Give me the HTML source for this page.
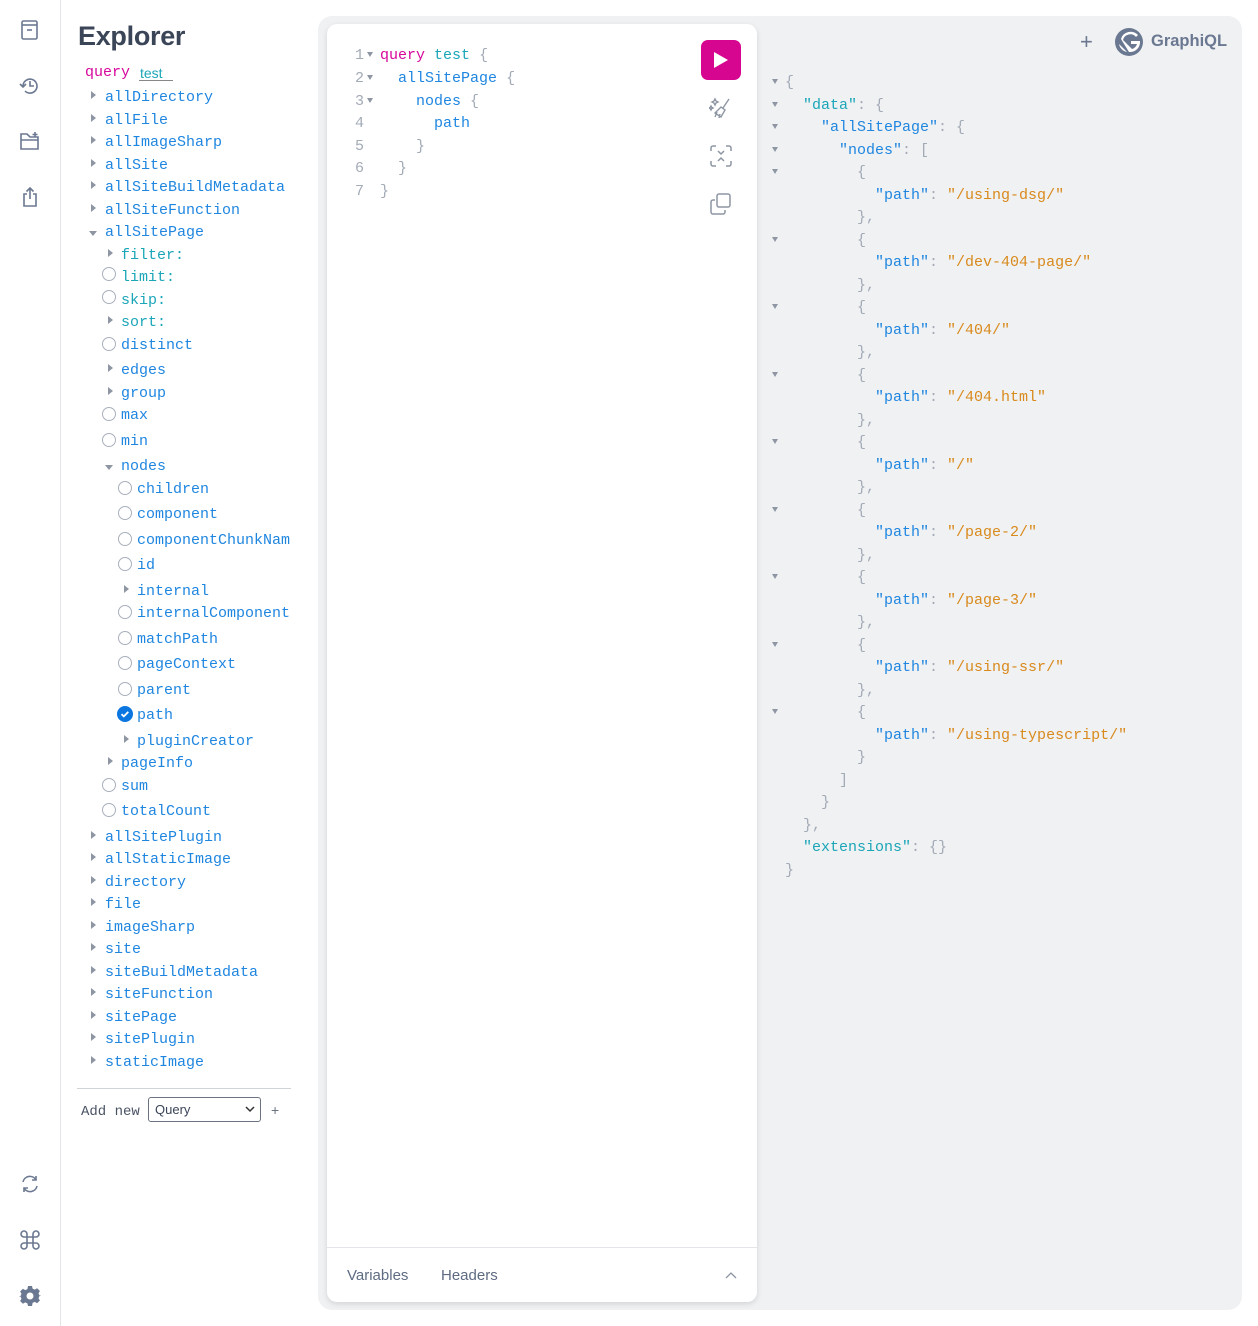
<!DOCTYPE html>
<html><head><meta charset="utf-8">
<style>
*{margin:0;padding:0;box-sizing:border-box}
body{width:1258px;height:1326px;background:#fff;position:relative;overflow:hidden;font-family:"Liberation Sans",sans-serif}
.m{font-family:"Liberation Mono",monospace;font-size:15px;line-height:20px;position:absolute;white-space:pre;margin-top:2px}
.f{color:#1f86e0}.a{color:#1ba6b8}.k{color:#d6079b}.p{color:#a3abb7}.s{color:#d98a1c}.n{color:#a3abb7}
.tri{position:absolute;width:0;height:0;border-top:4px solid transparent;border-bottom:4px solid transparent;border-left:5px solid #8e96a3;margin-top:-1px}
.dn{position:absolute;width:0;height:0;border-left:4px solid transparent;border-right:4px solid transparent;border-top:5px solid #8e96a3}
.rad{position:absolute;width:14px;height:14px;border:1.5px solid #a9b0bc;border-radius:50%}
.ja{position:absolute;left:772px;width:0;height:0;border-left:3px solid transparent;border-right:3px solid transparent;border-top:5px solid #8e96a3}
svg{position:absolute}
</style></head><body>
<!-- sidebar -->
<div style="position:absolute;left:60px;top:0;width:1px;height:1326px;background:#e3e5e8"></div>
<svg style="left:20px;top:19px" width="20" height="22" viewBox="0 0 20 22" fill="none" stroke="#6b7891" stroke-width="1.6"><rect x="2" y="2" width="15" height="18" rx="1.5"/><line x1="2" y1="6" x2="17" y2="6"/><line x1="7" y1="11" x2="12" y2="11"/></svg>
<svg style="left:19px;top:75px" width="22" height="22" viewBox="0 0 22 22" fill="none" stroke="#6b7891" stroke-width="1.6"><path d="M4 11a7 7 0 1 1 2 5"/><path d="M1 9l3 3 3-3"/><path d="M11 6v5h4"/></svg>
<svg style="left:19px;top:131px" width="22" height="20" viewBox="0 0 22 20" fill="none" stroke="#6b7891" stroke-width="1.6"><path d="M2 3h6l3 3h8v12H2z"/><line x1="2" y1="9" x2="19" y2="9"/><path d="M16 1v5M13.5 3.5h5"/></svg>
<svg style="left:21px;top:186px" width="18" height="22" viewBox="0 0 18 22" fill="none" stroke="#6b7891" stroke-width="1.6"><path d="M6 8H3v12h12V8h-3"/><path d="M9 2v11M5.5 5.5L9 2l3.5 3.5"/></svg>
<svg style="left:19px;top:1173px" width="22" height="22" viewBox="0 0 22 22" fill="none" stroke="#6b7891" stroke-width="1.6"><path d="M4 9a7 7 0 0 1 13-2M18 13a7 7 0 0 1-13 2"/><path d="M17 3v4h-4M5 19v-4h4"/></svg>
<svg style="left:19px;top:1229px" width="22" height="22" viewBox="0 0 22 22" fill="none" stroke="#6b7891" stroke-width="1.6"><path d="M8 8V5a3 3 0 1 0-3 3h12a3 3 0 1 0-3-3v12a3 3 0 1 0 3-3H5a3 3 0 1 0 3 3z"/></svg>
<svg style="left:19px;top:1285px" width="22" height="22" viewBox="0 0 22 22"><path fill="#6b7891" d="M9 1h4l.6 2.6 2.2 1 2.3-1.4 2.8 2.8-1.4 2.3 1 2.2L23 11v0l0 0v0h-2.5l-1 2.2 1.4 2.3-2.8 2.8-2.3-1.4-2.2 1L13 21H9l-.6-2.6-2.2-1-2.3 1.4-2.8-2.8 1.4-2.3-1-2.2L-1 11h2.5l1-2.2L1.1 6.5 3.9 3.7l2.3 1.4 2.2-1z"/><circle cx="11" cy="11" r="3.5" fill="#fff"/></svg>

<!-- explorer -->
<div style="position:absolute;left:78px;top:21px;font-size:27px;font-weight:bold;color:#3b4558;letter-spacing:-0.3px">Explorer</div>
<div class="m k" style="left:85px;top:61px">query</div>
<div class="m a" style="left:140px;top:61px;font-family:'Liberation Sans',sans-serif;font-size:14px">test</div>
<div style="position:absolute;left:139px;top:80px;width:34px;height:1px;background:#888"></div>

<div class="tri" style="left:91px;top:92px"></div><div class="m f" style="left:105px;top:86px">allDirectory</div>
<div class="tri" style="left:91px;top:115px"></div><div class="m f" style="left:105px;top:109px">allFile</div>
<div class="tri" style="left:91px;top:137px"></div><div class="m f" style="left:105px;top:131px">allImageSharp</div>
<div class="tri" style="left:91px;top:160px"></div><div class="m f" style="left:105px;top:154px">allSite</div>
<div class="tri" style="left:91px;top:182px"></div><div class="m f" style="left:105px;top:176px">allSiteBuildMetadata</div>
<div class="tri" style="left:91px;top:205px"></div><div class="m f" style="left:105px;top:199px">allSiteFunction</div>
<div class="dn" style="left:89px;top:231px"></div><div class="m f" style="left:105px;top:221px">allSitePage</div>
<div class="tri" style="left:108px;top:250px"></div><div class="m a" style="left:121px;top:244px">filter:</div>
<div class="rad" style="left:102px;top:267px"></div><div class="m a" style="left:121px;top:266px">limit:</div>
<div class="rad" style="left:102px;top:290px"></div><div class="m a" style="left:121px;top:289px">skip:</div>
<div class="tri" style="left:108px;top:317px"></div><div class="m a" style="left:121px;top:311px">sort:</div>
<div class="rad" style="left:102px;top:337px"></div><div class="m f" style="left:121px;top:334px">distinct</div>
<div class="tri" style="left:108px;top:365px"></div><div class="m f" style="left:121px;top:359px">edges</div>
<div class="tri" style="left:108px;top:388px"></div><div class="m f" style="left:121px;top:382px">group</div>
<div class="rad" style="left:102px;top:407px"></div><div class="m f" style="left:121px;top:404px">max</div>
<div class="rad" style="left:102px;top:433px"></div><div class="m f" style="left:121px;top:430px">min</div>
<div class="dn" style="left:105px;top:465px"></div><div class="m f" style="left:121px;top:455px">nodes</div>
<div class="rad" style="left:118px;top:481px"></div><div class="m f" style="left:137px;top:478px">children</div>
<div class="rad" style="left:118px;top:506px"></div><div class="m f" style="left:137px;top:503px">component</div>
<div class="rad" style="left:118px;top:532px"></div><div class="m f" style="left:137px;top:529px">componentChunkNam</div>
<div class="rad" style="left:118px;top:557px"></div><div class="m f" style="left:137px;top:554px">id</div>
<div class="tri" style="left:124px;top:586px"></div><div class="m f" style="left:137px;top:580px">internal</div>
<div class="rad" style="left:118px;top:605px"></div><div class="m f" style="left:137px;top:602px">internalComponent</div>
<div class="rad" style="left:118px;top:631px"></div><div class="m f" style="left:137px;top:628px">matchPath</div>
<div class="rad" style="left:118px;top:656px"></div><div class="m f" style="left:137px;top:653px">pageContext</div>
<div class="rad" style="left:118px;top:682px"></div><div class="m f" style="left:137px;top:679px">parent</div>
<svg style="left:117px;top:706px" width="16" height="16" viewBox="0 0 16 16"><circle cx="8" cy="8" r="8" fill="#0b76e0"/><path d="M4.5 8.2l2.3 2.2 4.5-4.5" stroke="#fff" stroke-width="1.8" fill="none"/></svg><div class="m f" style="left:137px;top:704px">path</div>
<div class="tri" style="left:124px;top:736px"></div><div class="m f" style="left:137px;top:730px">pluginCreator</div>
<div class="tri" style="left:108px;top:758px"></div><div class="m f" style="left:121px;top:752px">pageInfo</div>
<div class="rad" style="left:102px;top:778px"></div><div class="m f" style="left:121px;top:775px">sum</div>
<div class="rad" style="left:102px;top:803px"></div><div class="m f" style="left:121px;top:800px">totalCount</div>
<div class="tri" style="left:91px;top:832px"></div><div class="m f" style="left:105px;top:826px">allSitePlugin</div>
<div class="tri" style="left:91px;top:854px"></div><div class="m f" style="left:105px;top:848px">allStaticImage</div>
<div class="tri" style="left:91px;top:877px"></div><div class="m f" style="left:105px;top:871px">directory</div>
<div class="tri" style="left:91px;top:899px"></div><div class="m f" style="left:105px;top:893px">file</div>
<div class="tri" style="left:91px;top:922px"></div><div class="m f" style="left:105px;top:916px">imageSharp</div>
<div class="tri" style="left:91px;top:944px"></div><div class="m f" style="left:105px;top:938px">site</div>
<div class="tri" style="left:91px;top:967px"></div><div class="m f" style="left:105px;top:961px">siteBuildMetadata</div>
<div class="tri" style="left:91px;top:989px"></div><div class="m f" style="left:105px;top:983px">siteFunction</div>
<div class="tri" style="left:91px;top:1012px"></div><div class="m f" style="left:105px;top:1006px">sitePage</div>
<div class="tri" style="left:91px;top:1034px"></div><div class="m f" style="left:105px;top:1028px">sitePlugin</div>
<div class="tri" style="left:91px;top:1057px"></div><div class="m f" style="left:105px;top:1051px">staticImage</div>
<div style="position:absolute;left:77px;top:1088px;width:214px;height:1px;background:#d0d3d8"></div>
<div class="m" style="left:81px;top:1100px;color:#4a5364;font-size:14px">Add new</div>
<div style="position:absolute;left:148px;top:1097px;width:113px;height:25px;border:1px solid #6b7280;border-radius:3px;font-size:13px;color:#3b4558;padding:4px 0 0 6px">Query<svg style="left:96px;top:8px" width="10" height="7" viewBox="0 0 10 7"><path d="M1 1l4 4 4-4" stroke="#333" stroke-width="1.5" fill="none"/></svg></div>
<div style="position:absolute;left:271px;top:1102px;font-size:14px;color:#6b7280">+</div>

<!-- main gray area -->
<div style="position:absolute;left:318px;top:16px;width:924px;height:1294px;background:#f0f1f3;border-radius:14px"></div>
<div style="position:absolute;left:327px;top:24px;width:430px;height:1278px;background:#fff;border-radius:10px;box-shadow:0 2px 6px rgba(0,0,0,0.12)"></div>
<div style="position:absolute;left:327px;top:1247px;width:430px;height:1px;background:#e3e5e8"></div>
<div style="position:absolute;left:347px;top:1267px;font-size:15px;color:#5e6b82">Variables</div>
<div style="position:absolute;left:441px;top:1267px;font-size:15px;color:#5e6b82">Headers</div>
<svg style="left:725px;top:1271px" width="12" height="8" viewBox="0 0 12 8"><path d="M1 7l5-5 5 5" stroke="#8e96a3" stroke-width="1.3" fill="none"/></svg>

<!-- editor -->
<div class="m n" style="left:355px;top:44px">1</div><div class="dn" style="left:367px;top:52px;border-width:5px 3px 0"></div>
<div class="m n" style="left:355px;top:67px">2</div><div class="dn" style="left:367px;top:75px;border-width:5px 3px 0"></div>
<div class="m n" style="left:355px;top:90px">3</div><div class="dn" style="left:367px;top:98px;border-width:5px 3px 0"></div>
<div class="m n" style="left:355px;top:112px">4</div>
<div class="m n" style="left:355px;top:135px">5</div>
<div class="m n" style="left:355px;top:157px">6</div>
<div class="m n" style="left:355px;top:180px">7</div>
<div class="m" style="left:380px;top:44px"><span class="k">query</span> <span class="a">test</span> <span class="p">{</span></div>
<div class="m" style="left:380px;top:67px">  <span class="f">allSitePage</span> <span class="p">{</span></div>
<div class="m" style="left:380px;top:90px">    <span class="f">nodes</span> <span class="p">{</span></div>
<div class="m" style="left:380px;top:112px">      <span class="f">path</span></div>
<div class="m p" style="left:380px;top:135px">    }</div>
<div class="m p" style="left:380px;top:157px">  }</div>
<div class="m p" style="left:380px;top:180px">}</div>

<div style="position:absolute;left:701px;top:40px;width:40px;height:40px;background:#d60690;border-radius:7px"></div>
<svg style="left:713px;top:51px" width="16" height="18" viewBox="0 0 16 18"><path d="M1 1l14 8-14 8z" fill="#fff"/></svg>
<svg style="left:709px;top:96px" width="24" height="24" viewBox="0 0 24 24" fill="none" stroke="#8e96a3" stroke-width="1.4"><path d="M20 3l-6 9M12 11l4 3-4 7-6-4z M8 16l-2 5M11 18l-1 4"/><path d="M6 3l1 2 2 1-2 1-1 2-1-2-2-1 2-1z M2 10l.7 1.3L4 12l-1.3.7L2 14l-.7-1.3L0 12l1.3-.7z"/></svg>
<svg style="left:710px;top:145px" width="22" height="22" viewBox="0 0 22 22" fill="none" stroke="#8e96a3" stroke-width="1.5"><path d="M1 6V3a2 2 0 0 1 2-2h3M16 1h3a2 2 0 0 1 2 2v3M21 16v3a2 2 0 0 1-2 2h-3M6 21H3a2 2 0 0 1-2-2v-3"/><path d="M8 6l3 3 3-3M8 16l3-3 3 3"/></svg>
<svg style="left:710px;top:193px" width="22" height="22" viewBox="0 0 22 22" fill="none" stroke="#8e96a3" stroke-width="1.5"><rect x="7" y="1" width="13" height="13" rx="2"/><path d="M5 7H3a2 2 0 0 0-2 2v10a2 2 0 0 0 2 2h10a2 2 0 0 0 2-2v-2"/></svg>

<!-- header right -->
<div style="position:absolute;left:1080px;top:29px;font-size:22px;color:#6b7891">+</div>
<svg style="left:1114px;top:27px" width="30" height="30" viewBox="0 0 30 30"><circle cx="15" cy="15" r="14" fill="#6b7891"/><path d="M5 17l8 8a10 10 0 0 1-8-8zM7 12a10 10 0 0 1 17-4l-2 2a7.5 7.5 0 0 0-13 3l9 9a7.5 7.5 0 0 0 5-5h-6v-3h9a10 10 0 0 1-11 11z" fill="#fff"/></svg>
<div style="position:absolute;left:1151px;top:32px;font-size:16.5px;font-weight:bold;color:#6b7891">GraphiQL</div>

<!-- json -->
<div class="ja" style="top:79px"></div><div class="m p" style="left:785px;top:71px">{</div>
<div class="ja" style="top:102px"></div><div class="m" style="left:785px;top:94px">  <span class="a">"data"</span><span class="p">: {</span></div>
<div class="ja" style="top:124px"></div><div class="m" style="left:785px;top:116px">    <span class="f">"allSitePage"</span><span class="p">: {</span></div>
<div class="ja" style="top:147px"></div><div class="m" style="left:785px;top:139px">      <span class="f">"nodes"</span><span class="p">: [</span></div>

<div class="ja" style="top:169px"></div><div class="m p" style="left:785px;top:161px">        {</div>
<div class="m" style="left:785px;top:184px">          <span class="f">"path"</span><span class="p">: </span><span class="s">"/using-dsg/"</span></div>
<div class="m p" style="left:785px;top:206px">        },</div>
<div class="ja" style="top:237px"></div><div class="m p" style="left:785px;top:229px">        {</div>
<div class="m" style="left:785px;top:251px">          <span class="f">"path"</span><span class="p">: </span><span class="s">"/dev-404-page/"</span></div>
<div class="m p" style="left:785px;top:274px">        },</div>
<div class="ja" style="top:304px"></div><div class="m p" style="left:785px;top:296px">        {</div>
<div class="m" style="left:785px;top:319px">          <span class="f">"path"</span><span class="p">: </span><span class="s">"/404/"</span></div>
<div class="m p" style="left:785px;top:341px">        },</div>
<div class="ja" style="top:372px"></div><div class="m p" style="left:785px;top:364px">        {</div>
<div class="m" style="left:785px;top:386px">          <span class="f">"path"</span><span class="p">: </span><span class="s">"/404.html"</span></div>
<div class="m p" style="left:785px;top:409px">        },</div>
<div class="ja" style="top:439px"></div><div class="m p" style="left:785px;top:431px">        {</div>
<div class="m" style="left:785px;top:454px">          <span class="f">"path"</span><span class="p">: </span><span class="s">"/"</span></div>
<div class="m p" style="left:785px;top:476px">        },</div>
<div class="ja" style="top:507px"></div><div class="m p" style="left:785px;top:499px">        {</div>
<div class="m" style="left:785px;top:521px">          <span class="f">"path"</span><span class="p">: </span><span class="s">"/page-2/"</span></div>
<div class="m p" style="left:785px;top:544px">        },</div>
<div class="ja" style="top:574px"></div><div class="m p" style="left:785px;top:566px">        {</div>
<div class="m" style="left:785px;top:589px">          <span class="f">"path"</span><span class="p">: </span><span class="s">"/page-3/"</span></div>
<div class="m p" style="left:785px;top:611px">        },</div>
<div class="ja" style="top:642px"></div><div class="m p" style="left:785px;top:634px">        {</div>
<div class="m" style="left:785px;top:656px">          <span class="f">"path"</span><span class="p">: </span><span class="s">"/using-ssr/"</span></div>
<div class="m p" style="left:785px;top:679px">        },</div>
<div class="ja" style="top:709px"></div><div class="m p" style="left:785px;top:701px">        {</div>
<div class="m" style="left:785px;top:724px">          <span class="f">"path"</span><span class="p">: </span><span class="s">"/using-typescript/"</span></div>
<div class="m p" style="left:785px;top:746px">        }</div>
<div class="m p" style="left:785px;top:769px">      ]</div>
<div class="m p" style="left:785px;top:791px">    }</div>
<div class="m p" style="left:785px;top:814px">  },</div>
<div class="m" style="left:785px;top:836px">  <span class="a">"extensions"</span><span class="p">: {}</span></div>
<div class="m p" style="left:785px;top:859px">}</div>
</body></html>
